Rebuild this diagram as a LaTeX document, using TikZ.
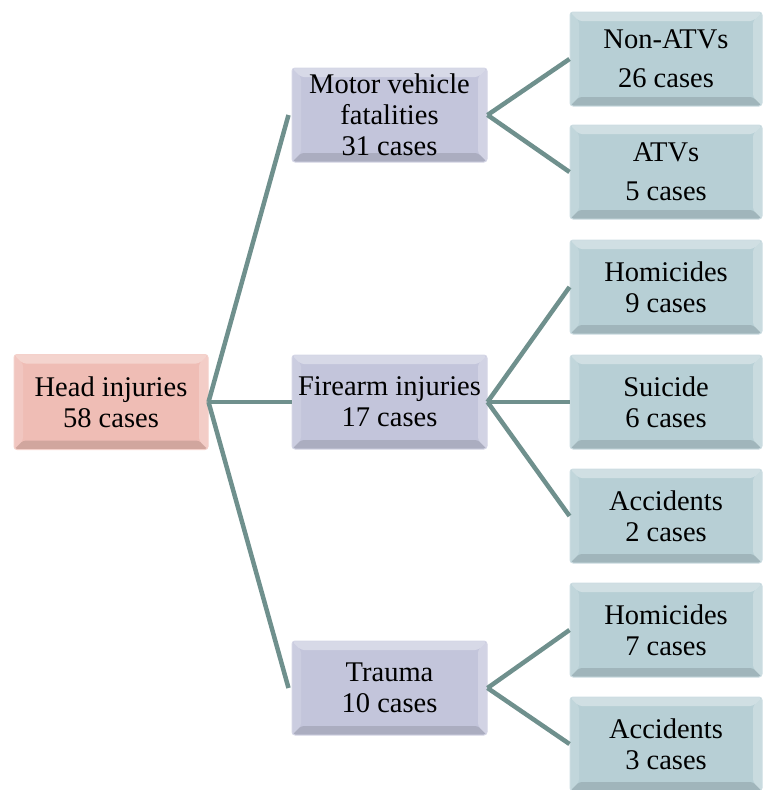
\documentclass[tikz,border=0pt]{standalone}
\usepackage{fontspec}
\setmainfont{Liberation Serif}
\usetikzlibrary{positioning}

\definecolor{linkcol}{HTML}{6F908D}
\definecolor{headcol}{HTML}{EFBDB5}
\definecolor{midcol}{HTML}{C3C5DB}
\definecolor{leafcol}{HTML}{B7CFD5}

\begin{document}
\begin{tikzpicture}[x=1pt,y=-1pt,
                    link/.style={draw=linkcol,line width=4.5pt},
                    semithick]
\tikzset{box/.style={rectangle,rounded corners=3pt,align=center,inner sep=0pt,
    font=\fontsize{28.5}{31}\selectfont,text=black,draw=#1!70!white,line width=1pt,fill=#1,
    path picture={
      \def\bw{9pt}
      \fill[white,opacity=.35] (path picture bounding box.north west) -- (path picture bounding box.north east)
         -- ([xshift=-\bw,yshift=-\bw]path picture bounding box.north east) -- ([xshift=\bw,yshift=-\bw]path picture bounding box.north west) -- cycle;
      \fill[white,opacity=.15] (path picture bounding box.north west) -- (path picture bounding box.south west)
         -- ([xshift=\bw,yshift=\bw]path picture bounding box.south west) -- ([xshift=\bw,yshift=-\bw]path picture bounding box.north west) -- cycle;
      \fill[black,opacity=.12] (path picture bounding box.south west) -- (path picture bounding box.south east)
         -- ([xshift=-\bw,yshift=\bw]path picture bounding box.south east) -- ([xshift=\bw,yshift=\bw]path picture bounding box.south west) -- cycle;
      \fill[white,opacity=.25] (path picture bounding box.north east) -- (path picture bounding box.south east)
         -- ([xshift=-\bw,yshift=\bw]path picture bounding box.south east) -- ([xshift=-\bw,yshift=-\bw]path picture bounding box.north east) -- cycle;
    }},
  headbox/.style={box=headcol,minimum width=194pt,minimum height=95pt},
  midbox/.style={box=midcol,minimum width=195pt,minimum height=94pt},
  leafbox/.style={box=leafcol,minimum width=192pt,minimum height=94pt}}

\useasboundingbox (0,0) rectangle (763,790);

        % root
        \node[headbox]  (head)     at (111,402)   {Head injuries\\58 cases};

        % middle level
        \node[midbox]   (motor)    at (389.5,115) {Motor vehicle\\fatalities\\31 cases};
        \node[midbox]   (firearm)  at (389.5,402) {Firearm injuries\\17 cases};
        \node[midbox]   (trauma)   at (389.5,688) {Trauma\\10 cases};

        % leaves
        \node[leafbox]  (nonatv)   at (666,59)    {Non-ATVs\\[8pt]26 cases};
        \node[leafbox]  (atv)      at (666,172)   {ATVs\\[8pt]5 cases};
        \node[leafbox]  (homfire)  at (666,287)   {Homicides\\9 cases};
        \node[leafbox]  (suicide)  at (666,402)   {Suicide\\6 cases};
        \node[leafbox]  (accfire)  at (666,516)   {Accidents\\2 cases};
        \node[leafbox]  (homtrau)  at (666,630)   {Homicides\\7 cases};
        \node[leafbox]  (acctrau)  at (666,744)   {Accidents\\3 cases};

        \path[link]
        (head.east)    edge    ([xshift=-3pt]motor.west)
        (head.east)    edge    (firearm.west)
        (head.east)    edge    ([xshift=-3pt]trauma.west)
        (motor.east)   edge    (nonatv.west)
        (motor.east)   edge    (atv.west)
        (firearm.east) edge    (homfire.west)
        (firearm.east) edge    (suicide.west)
        (firearm.east) edge    (accfire.west)
        (trauma.east)  edge    (homtrau.west)
        (trauma.east)  edge    (acctrau.west)
        ; %end path
\end{tikzpicture}
\end{document}
